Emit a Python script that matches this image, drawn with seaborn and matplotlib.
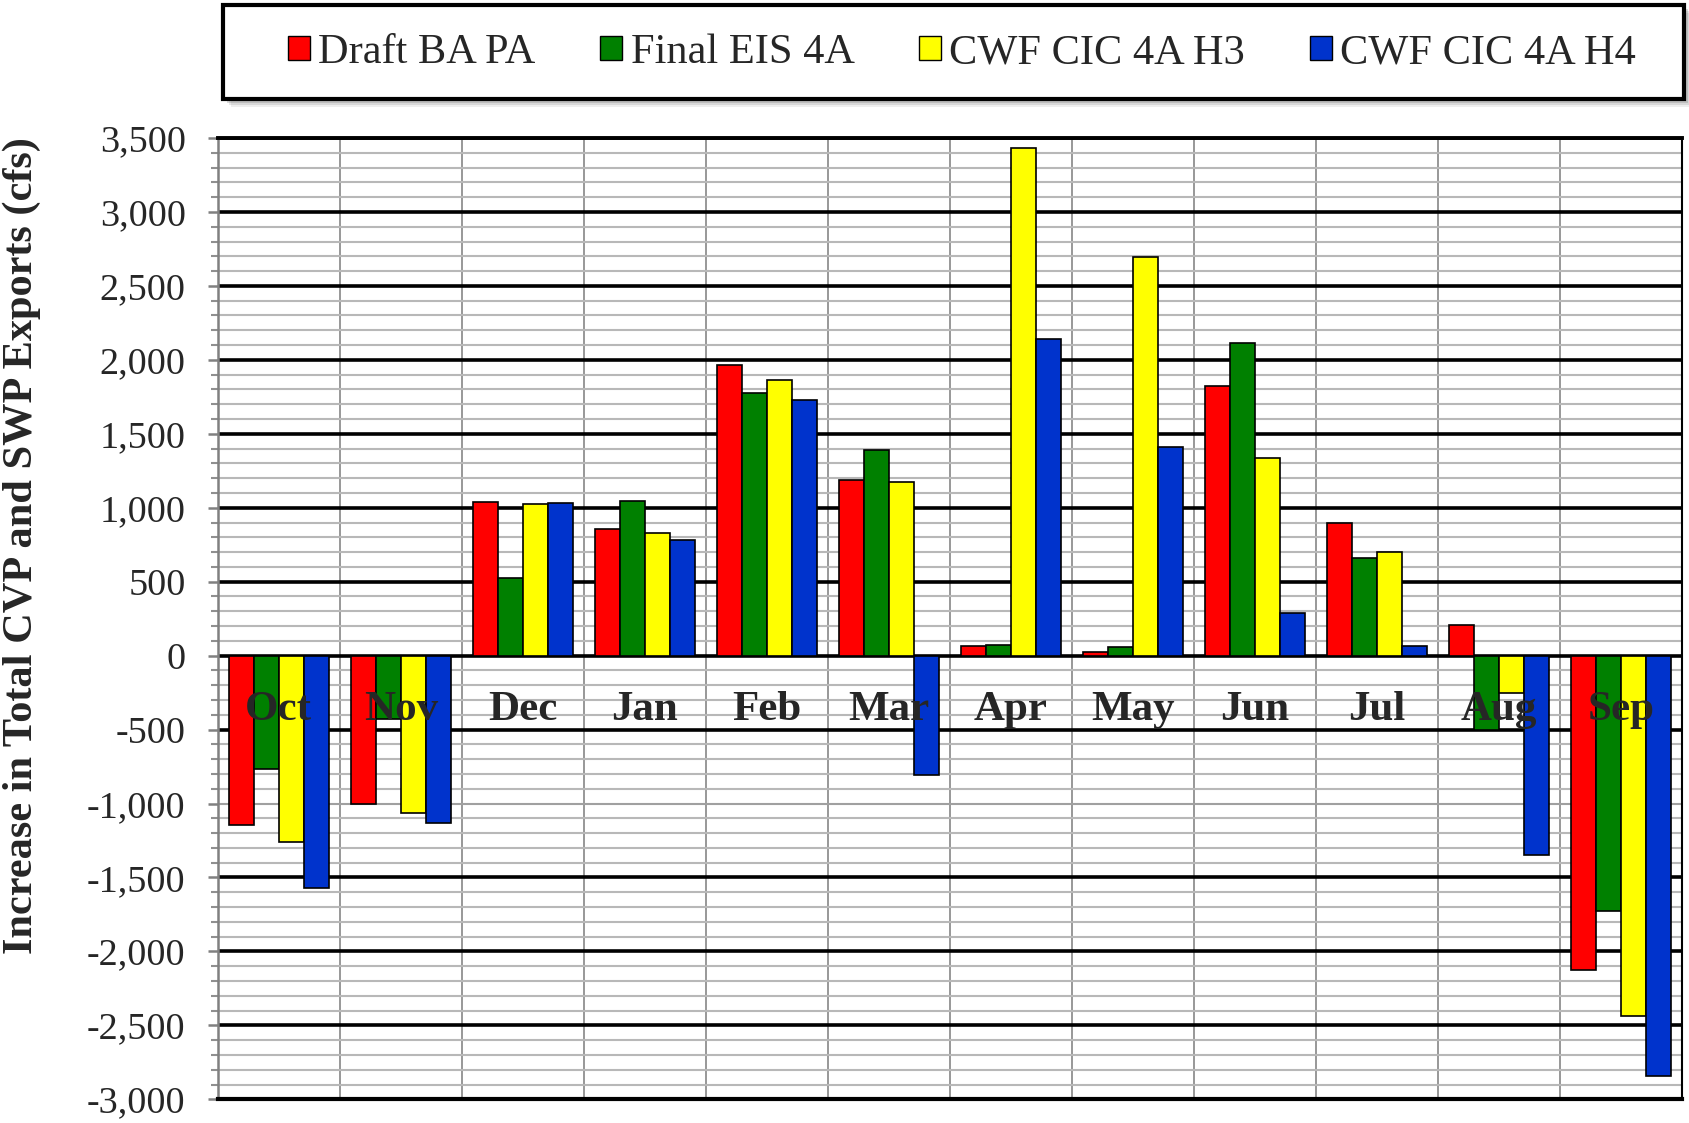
import matplotlib
matplotlib.use("Agg")
import matplotlib.pyplot as plt
import seaborn as sns
import pandas as pd
from matplotlib.ticker import FixedLocator, FuncFormatter, MultipleLocator
from matplotlib.patches import Rectangle, Patch

# ---------------- data ----------------
months = ["Oct", "Nov", "Dec", "Jan", "Feb", "Mar", "Apr", "May", "Jun", "Jul", "Aug", "Sep"]
series_names = ["Draft BA PA", "Final EIS 4A", "CWF CIC 4A H3", "CWF CIC 4A H4"]
draft_ba_pa = [-1142, -1006, 1039, 857, 1966, 1188, 63, 27, 1822, 894, 207, -2128]
final_eis_4a = [-767, -426, 528, 1044, 1775, 1393, 72, 61, 2115, 660, -505, -1727]
cwf_cic_4a_h3 = [-1260, -1064, 1024, 832, 1867, 1172, 3432, 2693, 1337, 698, -254, -2435]
cwf_cic_4a_h4 = [-1572, -1130, 1033, 782, 1729, -807, 2142, 1409, 288, 63, -1348, -2841]
colors = ["#FF0000", "#008000", "#FFFF00", "#0033CC"]
y_ticks = [-3000, -2500, -2000, -1500, -1000, -500, 0, 500, 1000, 1500, 2000, 2500, 3000, 3500]
y_label = "Increase in Total CVP and SWP Exports (cfs)"

rows = []
for name, vals in zip(series_names, [draft_ba_pa, final_eis_4a, cwf_cic_4a_h3, cwf_cic_4a_h4]):
    for m, v in zip(months, vals):
        rows.append({"Month": m, "Series": name, "Value": v})
df = pd.DataFrame(rows)

# ---------------- style ----------------
sns.set_style("white")
plt.rcParams["font.family"] = ["Liberation Serif", "DejaVu Serif"]

fig = plt.figure(figsize=(16.9, 11.23), dpi=100)
ax = fig.add_axes([0.1288, 0.0211, 0.8665, 0.8560])

sns.barplot(data=df, x="Month", y="Value", hue="Series", order=months,
            hue_order=series_names, palette=colors, saturation=1, width=0.82,
            edgecolor="black", linewidth=1.2, ax=ax, zorder=3, legend=False)

ax.set_xlim(-0.5, len(months) - 0.5)
ax.set_ylim(y_ticks[0], y_ticks[-1])
ax.set_axisbelow(True)

# y axis
ax.yaxis.set_major_locator(FixedLocator(y_ticks))
ax.yaxis.set_minor_locator(MultipleLocator(100))
ax.yaxis.set_major_formatter(FuncFormatter(lambda v, p: f"{int(v):,}"))
ax.tick_params(axis="y", which="major", direction="out", length=7, width=1.8,
               color="#808080", labelsize=27.5, pad=16, left=True)
ax.tick_params(axis="y", which="minor", direction="out", length=5, width=1.5,
               color="#909090", left=True)
ax.grid(axis="y", which="minor", color="#b8b8b8", linewidth=1.5, zorder=0)
ax.grid(axis="y", which="major", color="black", linewidth=2.6, zorder=1)
for t in ax.yaxis.get_major_ticks():
    if t.get_loc() == 0:
        t.gridline.set_color("#a0a0a0")
        t.gridline.set_linewidth(1.5)

# x axis: category boundaries as vertical grid lines, labels placed next to zero
ax.set_xticks(range(len(months)))
ax.set_xticklabels([])
ax.set_xticks([i + 0.5 for i in range(len(months) - 1)], minor=True)
ax.tick_params(axis="x", which="both", length=0)
ax.grid(axis="x", which="minor", color="#909090", linewidth=1.3, zorder=1)
ax.set_xlabel("")
ax.set_ylabel("")

for i, m in enumerate(months):
    ax.text(i, -437, m, ha="center", va="baseline", fontsize=31,
            fontweight="bold", zorder=6)

# spines
ax.spines["left"].set_color("#808080")
ax.spines["left"].set_linewidth(1.8)
ax.spines["top"].set_color("black")
ax.spines["top"].set_linewidth(2.8)
ax.spines["bottom"].set_color("black")
ax.spines["bottom"].set_linewidth(3.0)
ax.spines["right"].set_color("black")
ax.spines["right"].set_linewidth(1.5)

fig.text(0.0127, 0.514, y_label, rotation=90, ha="center", va="center",
         fontsize=30.5, fontweight="bold")

# legend frame with soft shadow
fx0, fy0, fw, fh = 0.132, 0.9118, 0.8645, 0.0837
for k, a in [(8, 0.10), (6, 0.15), (4, 0.22)]:
    fig.patches.append(Rectangle((fx0 + k / 1690, fy0 - k / 1123), fw, fh,
                                 transform=fig.transFigure, facecolor="#606060",
                                 edgecolor="none", alpha=a, zorder=1))
fig.patches.append(Rectangle((fx0, fy0), fw, fh, transform=fig.transFigure,
                             facecolor="white", edgecolor="black", linewidth=3.0,
                             zorder=2))

handles = [Patch(facecolor=c, edgecolor="black", linewidth=1.0) for c in colors]
leg = fig.legend(handles, series_names, loc="center", ncol=4, mode="expand",
                 bbox_to_anchor=(0.1704, 0.93, 0.7976, 0.046), frameon=False,
                 fontsize=30.5, handlelength=0.52, handleheight=0.52,
                 handletextpad=0.2, borderpad=0, borderaxespad=0)
leg.set_zorder(5)

fig.savefig("out.png", dpi=100, facecolor="white")
